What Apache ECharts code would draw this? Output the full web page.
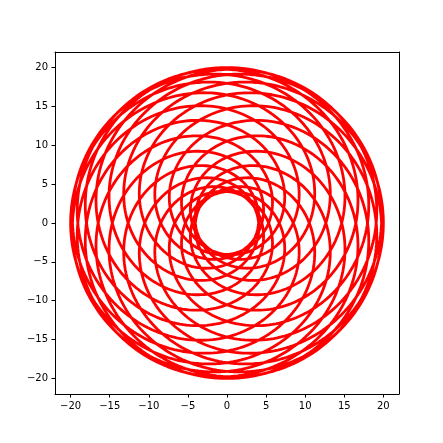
<!DOCTYPE html>
<html>
<head>
<meta charset="utf-8">
<script src="https://cdn.jsdelivr.net/npm/echarts@6/dist/echarts.min.js"></script>
<style>
html,body{margin:0;padding:0;background:#fff;}
#chart{width:443px;height:443px;}
</style>
</head>
<body>
<div id="chart"></div>
<script>
// Curve parameters: two rotating arms of length 12 and 8
// (outer edge 20, inner hole 4) and their angular speeds.
var armLengths = [12, 8];
var angularSpeeds = [25, 13];
var sampleCount = [9000];
var xTicks = [-20, -15, -10, -5, 0, 5, 10, 15, 20];
var yTicks = [-20, -15, -10, -5, 0, 5, 10, 15, 20];
var axisRange = [-22, 22];

var curve = [];
for (var i = 0; i <= sampleCount[0]; i++) {
  var t = 2 * Math.PI * i / sampleCount[0];
  var x = armLengths[0] * Math.cos(angularSpeeds[0] * t) + armLengths[1] * Math.cos(angularSpeeds[1] * t);
  var y = armLengths[0] * Math.sin(angularSpeeds[0] * t) + armLengths[1] * Math.sin(angularSpeeds[1] * t);
  curve.push([x, y]);
}

function fmt(v) { return String(v).replace('-', '\u2212'); }

function mainAxis(ticks, pos) {
  return {
    type: 'value', position: pos, min: axisRange[0], max: axisRange[1],
    splitLine: { show: false },
    axisLine: { show: true, onZero: false, lineStyle: { color: '#000', width: 1 } },
    axisTick: { show: true, inside: false, length: 3.5, customValues: ticks, lineStyle: { color: '#000', width: 1 } },
    axisLabel: { show: true, color: '#000', fontSize: 10, fontFamily: 'DejaVu Sans', margin: 7, customValues: ticks, formatter: fmt }
  };
}
function frameAxis(pos) {
  return { type: 'value', position: pos, min: axisRange[0], max: axisRange[1],
    axisLine: { show: true, onZero: false, lineStyle: { color: '#000', width: 1 } },
    axisTick: { show: false }, axisLabel: { show: false }, splitLine: { show: false } };
}

var chart = echarts.init(document.getElementById('chart'), null, { renderer: 'canvas' });
chart.setOption({
  animation: false,
  backgroundColor: '#fff',
  grid: { left: 55, right: 44, top: 52, bottom: 49, containLabel: false },
  xAxis: [mainAxis(xTicks, 'bottom'), frameAxis('top')],
  yAxis: [mainAxis(yTicks, 'left'), frameAxis('right')],
  series: [{
    type: 'line', data: curve, xAxisIndex: 0, yAxisIndex: 0,
    showSymbol: false, symbol: 'none', sampling: null,
    lineStyle: { color: '#ff0000', width: 2.8 }, clip: true
  }]
});
</script>
</body>
</html>
